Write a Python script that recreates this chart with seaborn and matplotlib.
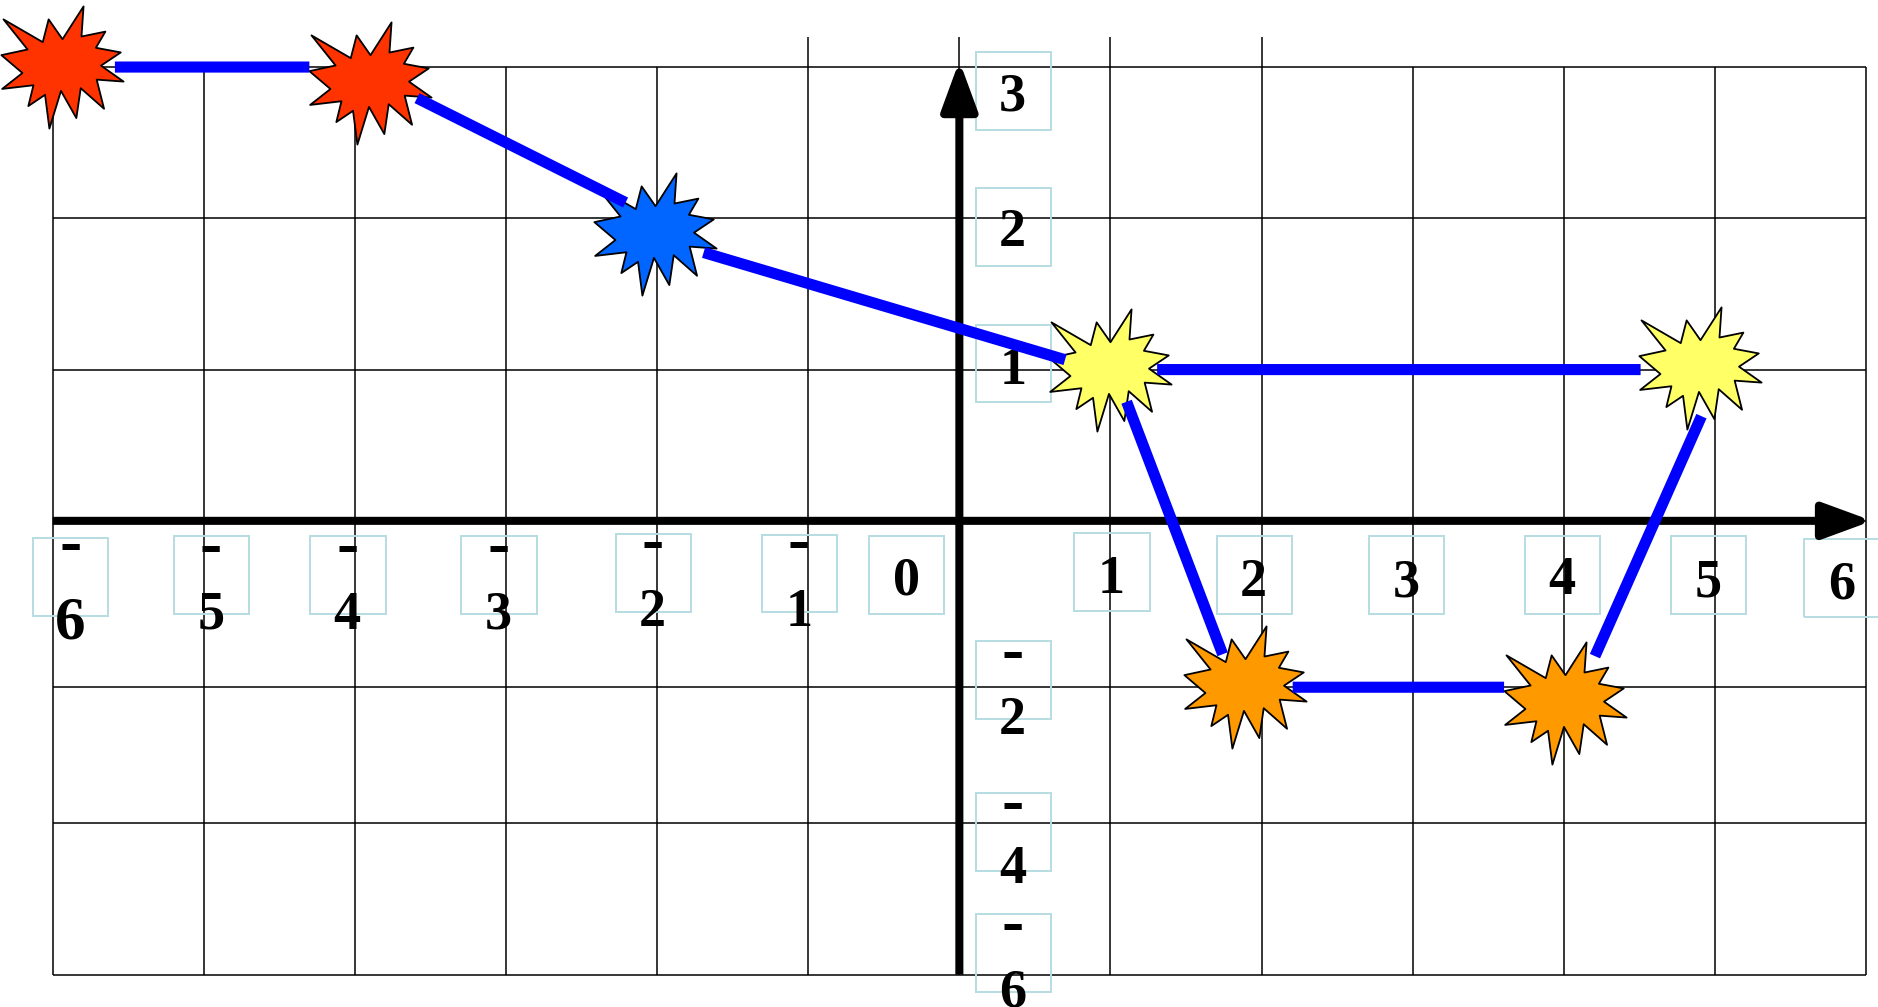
import numpy as np
import pandas as pd
import matplotlib
matplotlib.use("Agg")
import matplotlib.pyplot as plt
from matplotlib.path import Path
from matplotlib.patches import Rectangle
from matplotlib.transforms import Affine2D, ScaledTranslation
import seaborn as sns

# ---------------- data ----------------
star_x = [-6, -4, -2, 1, 5, 2, 4]
star_y = [3, 3, 2, 1, 1, -2, -2]
star_group = ["red", "red", "blue", "yellow", "yellow", "orange", "orange"]

seg_x0 = [-6, -4, -2, 1, 1, 2, 4]
seg_y0 = [3, 3, 2, 1, 1, -2, -2]
seg_x1 = [-4, -2, 1, 5, 2, 4, 5]
seg_y1 = [3, 2, 1, 1, -2, -2, 1]

x_ticks = [-6, -5, -4, -3, -2, -1, 0, 1, 2, 3, 4, 5, 6]
x_tick_labels = ["-6", "-5", "-4", "-3", "-2", "-1", "0", "1", "2", "3", "4", "5", "6"]
y_ticks = [3, 2, 1, -2, -4, -6]
y_tick_labels = ["3", "2", "1", "-2", "-4", "-6"]
grid_y = [3, 2, 1, 0, -2, -4, -6]

# ---------------- style ----------------
sns.set_style("white")
plt.rcParams["font.family"] = ["Liberation Serif", "DejaVu Serif"]
plt.rcParams["text.color"] = "black"

star_palette = {"red": "#FF3300", "blue": "#0066FF", "yellow": "#FFFF66", "orange": "#FF9900"}
line_color = "#0000FF"
box_color = "#B5DDE2"

# value -> drawing position (the negative half of the axis is compressed)
scale_vals = [-20, -6, -4, -2, 0, 20]
scale_pos = [-10, -3, -2, -1.1, 0, 20]

# small placement nudges of the stars (points, x right / y up)
star_nudge = [(6.5, 0), (11.2, -11.2), (-1.7, -11.6), (0, 0), (-10.9, 0.9), (-11.6, 0), (0.9, -11.2)]
star_size_pt = 88

# segment end nudges (points) and end gaps (points) at start / end
seg_nudge_a = [(0, 0), (0, 0), (0, -14.7), (0, 0), (2.8, 0), (0, 0), (12.5, 0)]
seg_nudge_b = [(0, 0), (0, 0), (0, -2.6), (0, 0), (-19, 0), (0, 0), (5.2, 0)]
seg_shrink_a = [44.8, 50, 34.9, 33.6, 24.8, 22.4, 24.5]
seg_shrink_b = [32.8, 25.4, 34.1, 53.5, 25.4, 43, 36.7]

# x labels: (box dx, box dy, digit dx, digit center dy, hyphen dy) in points
x_lab_style = [
    (12.9, -40.5, 12.9, -69.9, -19.4),
    (5.5, -38.8, 5.0, -64.7, -20.7),
    (-5.0, -38.8, -5.5, -64.7, -20.7),
    (-5.2, -38.8, -5.6, -64.7, -20.7),
    (-2.7, -37.5, -3.2, -63.0, -18.1),
    (-6.3, -37.9, -6.8, -63.0, -18.1),
    (-37.9, -38.8, -37.9, -40.1, 0),
    (1.1, -37.1, 0.7, -38.8, 0),
    (-5.0, -38.8, -6.3, -41.4, 0),
    (-4.3, -38.8, -4.7, -41.4, 0),
    (-1.0, -38.8, -1.4, -39.7, 0),
    (-4.6, -38.8, -5.0, -41.4, 0),
    (-17.7, -41.4, -17.2, -43.1, 0),
]
x_lab_size = [44, 39, 39, 39, 39, 39, 39, 39, 39, 39, 39, 39, 39]
y_lab_style = [
    (38.8, -17.2, 38.4, -18.1, 0),
    (38.8, -6.0, 38.4, -6.9, 0),
    (38.8, 4.3, 38.4, 2.6, 0),
    (38.8, 5.2, 38.4, -20.7, 22.7),
    (38.8, -6.0, 38.4, -30.2, 12.1),
    (38.8, 15.5, 38.4, -10.3, 33.6),
]
box_w, box_h = 54.3, 56.0
hyphen_size = 48

# irregular "explosion" star marker
seal = [(10800, 5800), (14522, 0), (14155, 5325), (18380, 4457), (16702, 7315),
        (21097, 8137), (17607, 10475), (21600, 13290), (16837, 12942), (18145, 18095),
        (14020, 14457), (13247, 19737), (10532, 14935), (8485, 21600), (7715, 15627),
        (4762, 17617), (5667, 13937), (135, 14587), (3722, 11775), (0, 8615),
        (4627, 7617), (370, 2295), (7312, 6320), (8352, 2295)]
verts = [((px - 10800) / 10800.0, -(py - 10800) / 10800.0) for px, py in seal]
verts.append(verts[0])
codes = [Path.MOVETO] + [Path.LINETO] * (len(seal) - 1) + [Path.CLOSEPOLY]
star_path = Path(verts, codes)

# ---------------- figure ----------------
fig = plt.figure(figsize=(18.78, 10.07), dpi=100)
ax = fig.add_axes([0, 0, 1, 1])
ax.set_yscale("function", functions=(lambda v: np.interp(v, scale_vals, scale_pos),
                                     lambda p: np.interp(p, scale_pos, scale_vals)))
ax.set_xlim(-6.3487, 6.0793)
ax.set_ylim(-6.428, 3.4433)
ax.set_axis_off()
ax.set_autoscale_on(False)


def nudged(dx, dy):
    return ax.transData + ScaledTranslation(dx / 72.0, dy / 72.0, fig.dpi_scale_trans)


# grid
tall = [-1, 0, 1, 2]
for xv in x_ticks:
    top = 3.2 if xv in tall else 3
    ax.vlines(xv, -6, top, color="black", lw=1.1, zorder=1)
ax.hlines(grid_y, -6, 6, color="black", lw=1.1, zorder=1)

# axes arrows
arrow_kw = dict(arrowstyle="-|>,head_length=30,head_width=11", color="black",
                lw=5.8, shrinkA=0, shrinkB=0, mutation_scale=1, capstyle="butt")
ax.annotate("", xy=(6, 0), xycoords=nudged(4.5, 0), xytext=(-6, 0), textcoords="data",
            arrowprops=arrow_kw, zorder=4)
ax.annotate("", xy=(0, 3), xycoords=nudged(0, 4.5), xytext=(0, -6), textcoords="data",
            arrowprops=arrow_kw, zorder=4)

# tick labels with boxes
pt2px = fig.dpi / 72.0


def add_label(xv, yv, text, st, fs):
    bdx, bdy, ddx, ddy, hdy = st
    tr = Affine2D().scale(pt2px) + ScaledTranslation(xv, yv, ax.transData)
    rect = Rectangle((bdx - box_w / 2, bdy - box_h / 2), box_w, box_h, transform=tr,
                     fill=False, ec=box_color, lw=1.4, zorder=2, clip_on=False)
    ax.add_artist(rect)
    digit = text.lstrip("-")
    ax.annotate(digit, xy=(xv, yv), xytext=(ddx, ddy - 0.33 * fs), textcoords="offset points",
                ha="center", va="baseline", fontsize=fs, fontweight="bold", color="black",
                zorder=3)
    if text.startswith("-"):
        ax.annotate("-", xy=(xv, yv), xytext=(ddx, hdy - 0.23 * hyphen_size),
                    textcoords="offset points", ha="center", va="baseline",
                    fontsize=hyphen_size, fontweight="bold", color="black", zorder=3)


for xv, lab, st, fs in zip(x_ticks, x_tick_labels, x_lab_style, x_lab_size):
    add_label(xv, 0, lab, st, fs)
for yv, lab, st in zip(y_ticks, y_tick_labels, y_lab_style):
    add_label(0, yv, lab, st, 39)

# stars
df = pd.DataFrame({"x": star_x, "y": star_y, "group": star_group})
for i, row in df.iterrows():
    dx, dy = star_nudge[i]
    sns.scatterplot(data=df.iloc[[i]], x="x", y="y", hue="group", palette=star_palette,
                    marker=star_path, s=star_size_pt ** 2, edgecolor="black", linewidth=1.3,
                    legend=False, ax=ax, zorder=5, clip_on=False, transform=nudged(dx, dy))

# connecting segments
for k in range(len(seg_x0)):
    ax.annotate("", xy=(seg_x1[k], seg_y1[k]), xycoords=nudged(*seg_nudge_b[k]),
                xytext=(seg_x0[k], seg_y0[k]), textcoords=nudged(*seg_nudge_a[k]),
                arrowprops=dict(arrowstyle="-", color=line_color, lw=8, capstyle="butt",
                                shrinkA=seg_shrink_a[k], shrinkB=seg_shrink_b[k]),
                zorder=6)

ax.set_xlim(-6.3487, 6.0793)
ax.set_ylim(-6.428, 3.4433)
ax.set_axis_off()
fig.savefig("out.png", dpi=100)
